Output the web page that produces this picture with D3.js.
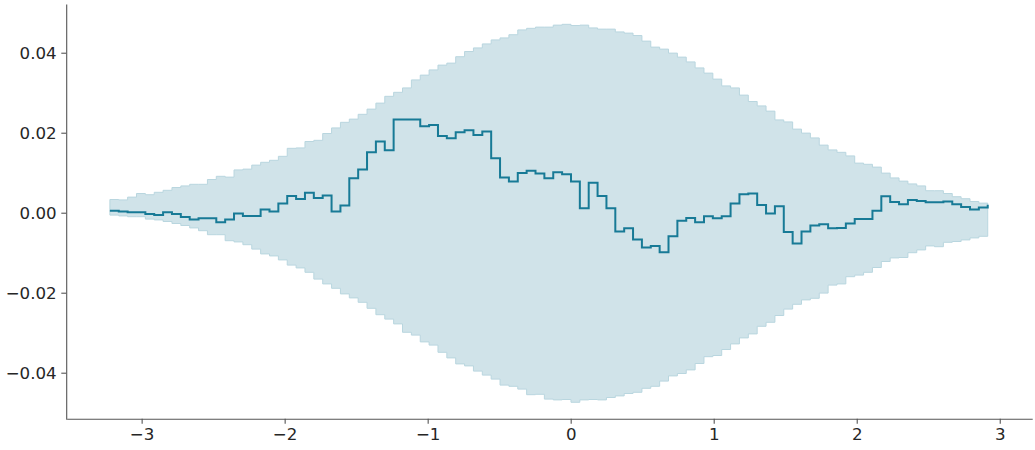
<!DOCTYPE html>
<html>
<head>
<meta charset="utf-8">
<script src="https://cdn.jsdelivr.net/npm/d3@7/dist/d3.min.js"></script>
<style>
  html, body { margin: 0; padding: 0; background: #ffffff; }
  svg { display: block; }
  .tick text { font-family: "DejaVu Sans", sans-serif; font-size: 16.67px; fill: #262626; }
</style>
</head>
<body>
<svg id="chart" width="1035" height="450"></svg>
<script>
// Evaluation grid (x positions of the ECDF-difference steps)
const xs = [
  -3.222, -3.160, -3.098, -3.036, -2.974, -2.912, -2.850, -2.788, -2.726, -2.664,
  -2.602, -2.540, -2.478, -2.416, -2.354, -2.292, -2.230, -2.168, -2.106, -2.044,
  -1.982, -1.920, -1.858, -1.796, -1.734, -1.672, -1.610, -1.548, -1.486, -1.424,
  -1.362, -1.300, -1.238, -1.176, -1.114, -1.052, -0.990, -0.928, -0.866, -0.804,
  -0.742, -0.680, -0.618, -0.556, -0.494, -0.432, -0.370, -0.308, -0.246, -0.184,
  -0.122, -0.060, 0.002, 0.064, 0.126, 0.188, 0.250, 0.312, 0.374, 0.436,
  0.498, 0.560, 0.622, 0.684, 0.746, 0.808, 0.870, 0.932, 0.994, 1.056,
  1.118, 1.180, 1.242, 1.304, 1.366, 1.428, 1.490, 1.552, 1.614, 1.676,
  1.738, 1.800, 1.862, 1.924, 1.986, 2.048, 2.110, 2.172, 2.234, 2.296,
  2.358, 2.420, 2.482, 2.544, 2.606, 2.668, 2.730, 2.792, 2.854, 2.916
];

// ECDF difference (step line)
const diff = [
  0.0005, 0.0003, 0.0001, 0.0001, -0.0003, -0.0006, 0.0001, -0.0003, -0.0011, -0.0017,
  -0.0014, -0.0014, -0.0024, -0.0017, -0.0002, -0.0008, -0.0008, 0.0008, 0.0003, 0.0023,
  0.0042, 0.0034, 0.0050, 0.0037, 0.0043, 0.0003, 0.0018, 0.0086, 0.0108, 0.0151,
  0.0178, 0.0156, 0.0233, 0.0233, 0.0233, 0.0216, 0.0219, 0.0192, 0.0186, 0.0201,
  0.0206, 0.0194, 0.0203, 0.0136, 0.0088, 0.0078, 0.0099, 0.0105, 0.0098, 0.0086,
  0.0101, 0.0096, 0.0078, 0.0011, 0.0075, 0.0042, 0.0011, -0.0047, -0.0039, -0.0067,
  -0.0087, -0.0083, -0.0099, -0.0059, -0.0020, -0.0013, -0.0024, -0.0009, -0.0014, -0.0009,
  0.0023, 0.0046, 0.0048, 0.0019, -0.0002, 0.0016, -0.0048, -0.0077, -0.0047, -0.0032,
  -0.0029, -0.0039, -0.0038, -0.0027, -0.0016, -0.0016, 0.0005, 0.0041, 0.0027, 0.0021,
  0.0032, 0.0029, 0.0026, 0.0026, 0.0028, 0.0021, 0.0014, 0.0008, 0.0013, 0.0020
];

// Upper edge of the confidence band
const upper = [
  0.0033, 0.0032, 0.0039, 0.0048, 0.0045, 0.0051, 0.0056, 0.0063, 0.0067, 0.0071,
  0.0071, 0.0083, 0.0091, 0.0089, 0.0107, 0.0109, 0.0119, 0.0126, 0.0131, 0.0141,
  0.0161, 0.0162, 0.0178, 0.0181, 0.0198, 0.0212, 0.0226, 0.0234, 0.0246, 0.0259,
  0.0274, 0.0291, 0.0301, 0.0312, 0.0332, 0.0344, 0.0357, 0.0369, 0.0374, 0.0390,
  0.0403, 0.0412, 0.0422, 0.0432, 0.0437, 0.0445, 0.0457, 0.0461, 0.0464, 0.0464,
  0.0469, 0.0471, 0.0468, 0.0469, 0.0462, 0.0459, 0.0459, 0.0452, 0.0449, 0.0443,
  0.0429, 0.0414, 0.0409, 0.0399, 0.0389, 0.0377, 0.0362, 0.0349, 0.0334, 0.0317,
  0.0312, 0.0294, 0.0278, 0.0267, 0.0254, 0.0232, 0.0227, 0.0209, 0.0199, 0.0187,
  0.0169, 0.0157, 0.0151, 0.0142, 0.0124, 0.0121, 0.0114, 0.0099, 0.0087, 0.0079,
  0.0072, 0.0067, 0.0055, 0.0055, 0.0048, 0.0040, 0.0035, 0.0028, 0.0024, 0.0024
];

// Lower edge of the confidence band
const lower = [
  -0.0006, -0.0008, -0.0010, -0.0010, -0.0016, -0.0018, -0.0022, -0.0027, -0.0032, -0.0038,
  -0.0045, -0.0055, -0.0055, -0.0070, -0.0073, -0.0080, -0.0091, -0.0103, -0.0108, -0.0118,
  -0.0131, -0.0138, -0.0149, -0.0166, -0.0178, -0.0189, -0.0203, -0.0213, -0.0224, -0.0239,
  -0.0255, -0.0266, -0.0278, -0.0299, -0.0306, -0.0323, -0.0331, -0.0349, -0.0363, -0.0378,
  -0.0383, -0.0396, -0.0406, -0.0416, -0.0431, -0.0434, -0.0441, -0.0455, -0.0454, -0.0466,
  -0.0468, -0.0467, -0.0474, -0.0468, -0.0467, -0.0468, -0.0462, -0.0458, -0.0452, -0.0449,
  -0.0439, -0.0434, -0.0421, -0.0408, -0.0402, -0.0393, -0.0377, -0.0360, -0.0357, -0.0342,
  -0.0328, -0.0313, -0.0303, -0.0284, -0.0274, -0.0257, -0.0241, -0.0229, -0.0218, -0.0214,
  -0.0201, -0.0181, -0.0178, -0.0160, -0.0156, -0.0149, -0.0137, -0.0122, -0.0113, -0.0112,
  -0.0100, -0.0093, -0.0083, -0.0085, -0.0074, -0.0072, -0.0068, -0.0063, -0.0059, -0.0059
];

const xTicks = [-3, -2, -1, 0, 1, 2, 3];
const yTicks = [-0.04, -0.02, 0.00, 0.02, 0.04];

const svg = d3.select("#chart");

const x = d3.scaleLinear().domain([-3.524, 3.227]).range([66.7, 1032.2]);
const y = d3.scaleLinear().domain([-0.05165, 0.05218]).range([419.3, 4]);

const rows = xs.map((v, i) => ({ x: v, d: diff[i], lo: lower[i], hi: upper[i] }));

// Band
const area = d3.area()
  .curve(d3.curveStepAfter)
  .x(d => x(d.x))
  .y0(d => y(d.lo))
  .y1(d => y(d.hi));

svg.append("path")
  .datum(rows)
  .attr("d", area)
  .attr("fill", "#d0e3e9")
  .attr("stroke", "#b9d6df")
  .attr("stroke-width", 1);

// ECDF difference line
const line = d3.line()
  .curve(d3.curveStepAfter)
  .x(d => x(d.x))
  .y(d => y(d.d));

svg.append("path")
  .datum(rows)
  .attr("d", line)
  .attr("fill", "none")
  .attr("stroke", "#177a96")
  .attr("stroke-width", 2)
  .attr("stroke-linejoin", "miter");

// Axes
const spineColor = "#555555";

const xAxis = d3.axisBottom(x)
  .tickValues(xTicks)
  .tickFormat(d3.format("d"))
  .tickSize(4.9)
  .tickPadding(4.4)
  .tickSizeOuter(0);

const gx = svg.append("g")
  .attr("transform", "translate(0,418.8)")
  .call(xAxis);

const yAxis = d3.axisLeft(y)
  .tickValues(yTicks)
  .tickFormat(d3.format(".2f"))
  .tickSize(4.9)
  .tickPadding(4.6)
  .tickSizeOuter(0);

const gy = svg.append("g")
  .attr("transform", "translate(66.2,0)")
  .call(yAxis);

[gx, gy].forEach(g => {
  g.select(".domain").attr("stroke", spineColor).attr("stroke-width", 1.1);
  g.selectAll(".tick line").attr("stroke", spineColor).attr("stroke-width", 1.1);
  g.selectAll(".tick text").attr("fill", "#262626");
});
</script>
</body>
</html>
